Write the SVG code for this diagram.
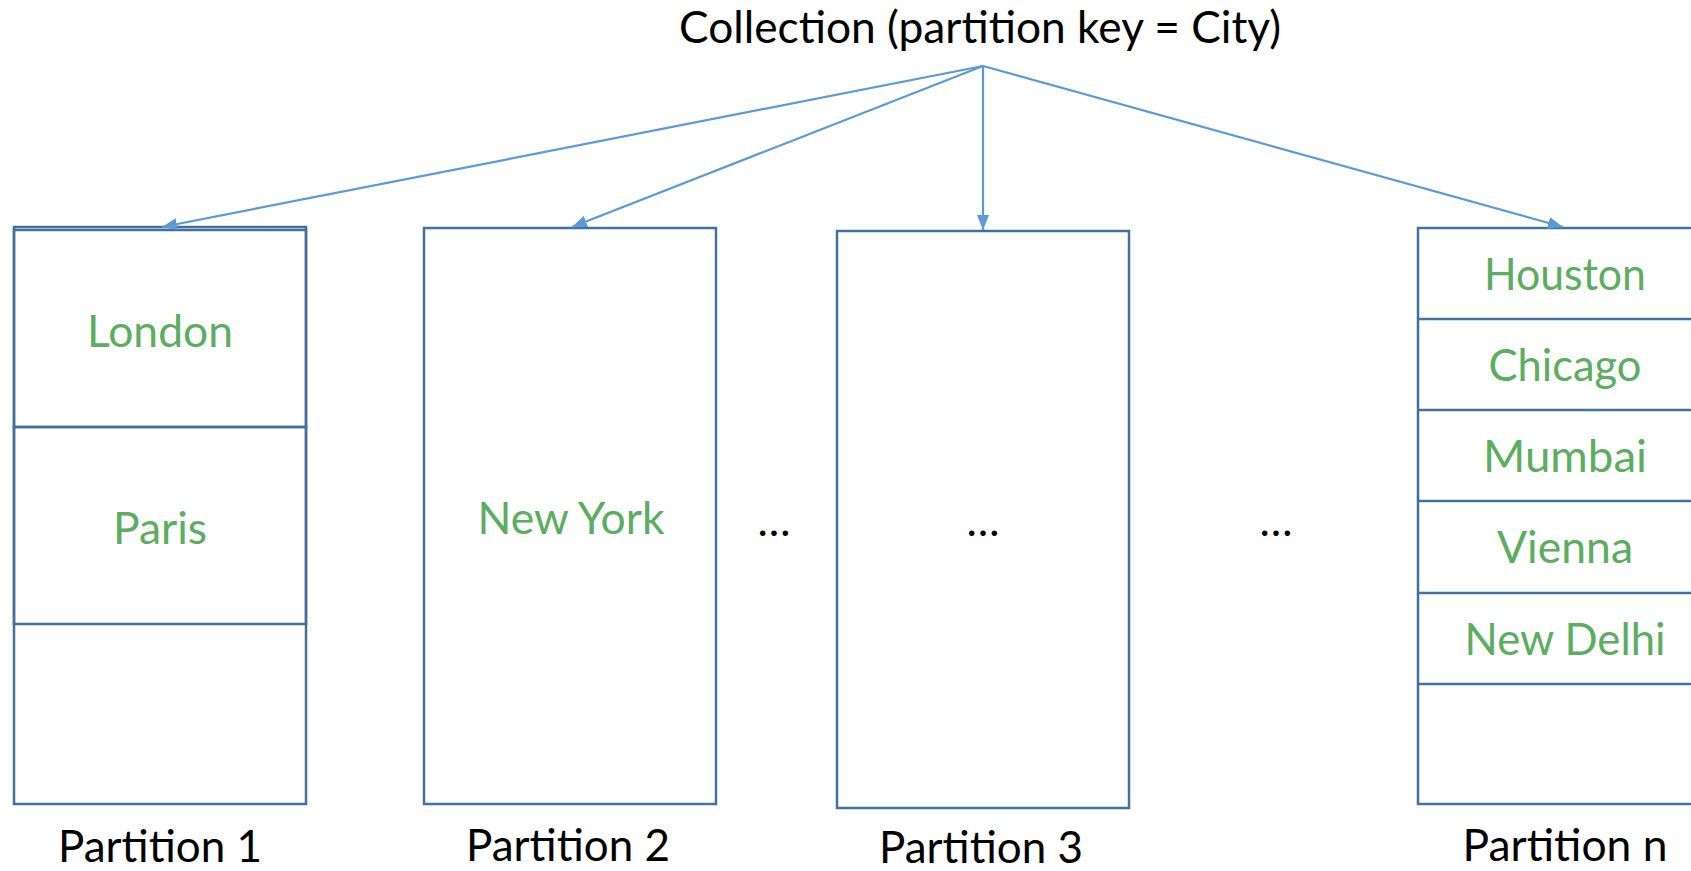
<svg xmlns="http://www.w3.org/2000/svg" width="1691" height="871" viewBox="0 0 1691 871">
<style>
.box{fill:#fff;stroke:#41719C;stroke-width:2.5}
.cell{fill:none;stroke:#41719C;stroke-width:2.5}
.conn{stroke:#5B9BD5;stroke-width:2.2;fill:none;marker-end:url(#ah)}
.t{font-family:Lato,"Open Sans",sans-serif;font-size:44px;text-anchor:middle}
.k{fill:#000}
.g{fill:#5BAD5F}
</style>
<defs>
<marker id="ah" markerUnits="userSpaceOnUse" markerWidth="16" markerHeight="12" refX="15" refY="6" orient="auto">
<path d="M0,0 L15,6 L0,12 Z" fill="#5B9BD5"/>
</marker>
</defs>
<rect width="1691" height="871" fill="#fff"/>
<g id="title"><text class="t k" x="980" y="43" textLength="602" lengthAdjust="spacingAndGlyphs">Collection (partition key = City)</text></g>
<g id="partition1">
<rect class="box" x="14" y="230" width="292" height="574"/>
<rect class="cell" x="14" y="227" width="292" height="200"/>
<rect class="cell" x="14" y="427" width="292" height="197"/>
<text class="t g" x="160" y="347" textLength="146" lengthAdjust="spacingAndGlyphs">London</text>
<text class="t g" x="160" y="544" textLength="94" lengthAdjust="spacingAndGlyphs">Paris</text>
<text class="t k" x="160" y="862" textLength="204" lengthAdjust="spacingAndGlyphs">Partition 1</text>
</g>
<g id="partition2">
<rect class="box" x="424" y="228" width="292" height="576"/>
<text class="t g" x="571" y="534" textLength="187" lengthAdjust="spacingAndGlyphs">New York</text>
<text class="t k" x="568" y="861" textLength="204" lengthAdjust="spacingAndGlyphs">Partition 2</text>
</g>
<g id="ellipsis1"><text class="t k" x="774" y="536">…</text></g>
<g id="partition3">
<rect class="box" x="837" y="231" width="292" height="577"/>
<text class="t k" x="983" y="536">…</text>
<text class="t k" x="981" y="863" textLength="204" lengthAdjust="spacingAndGlyphs">Partition 3</text>
</g>
<g id="ellipsis2"><text class="t k" x="1276" y="536">…</text></g>
<g id="partitionN">
<rect class="box" x="1418" y="228" width="292" height="576"/>
<line class="cell" x1="1418" y1="319" x2="1710" y2="319"/>
<line class="cell" x1="1418" y1="410" x2="1710" y2="410"/>
<line class="cell" x1="1418" y1="501" x2="1710" y2="501"/>
<line class="cell" x1="1418" y1="593" x2="1710" y2="593"/>
<line class="cell" x1="1418" y1="684" x2="1710" y2="684"/>
<text class="t g" x="1565" y="290" textLength="162" lengthAdjust="spacingAndGlyphs">Houston</text>
<text class="t g" x="1565" y="381" textLength="153" lengthAdjust="spacingAndGlyphs">Chicago</text>
<text class="t g" x="1565" y="472" textLength="164" lengthAdjust="spacingAndGlyphs">Mumbai</text>
<text class="t g" x="1565" y="563" textLength="136" lengthAdjust="spacingAndGlyphs">Vienna</text>
<text class="t g" x="1565" y="655" textLength="201" lengthAdjust="spacingAndGlyphs">New Delhi</text>
<text class="t k" x="1565" y="861" textLength="205" lengthAdjust="spacingAndGlyphs">Partition n</text>
</g>
<g id="connectors">
<line class="conn" x1="983" y1="66" x2="162" y2="227"/>
<line class="conn" x1="983" y1="66" x2="572" y2="227"/>
<line class="conn" x1="983" y1="66" x2="983" y2="230"/>
<line class="conn" x1="983" y1="66" x2="1563" y2="227"/>
</g>
</svg>
